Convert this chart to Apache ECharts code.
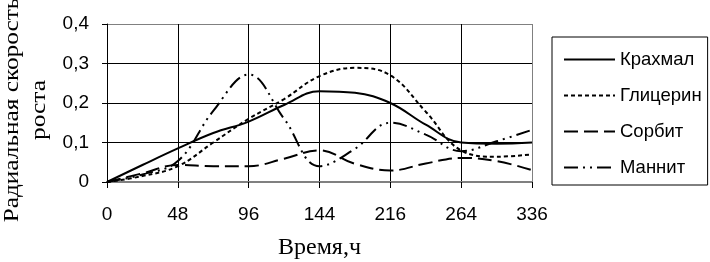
<!DOCTYPE html>
<html>
<head>
<meta charset="utf-8">
<script src="https://cdn.jsdelivr.net/npm/echarts@6/dist/echarts.min.js"></script>
<style>
html,body{margin:0;padding:0;background:#fff;}
#chart{width:710px;height:262px;}
</style>
</head>
<body>
<div id="chart"></div>
<script>
// Time in hours; every other category carries a tick label
var categories = ['0', '24', '48', '72', '96', '120', '144', '180', '216', '240', '264', '300', '336'];
var krahmal   = [0, 0.043, 0.085, 0.124, 0.153, 0.195, 0.23, 0.226, 0.2, 0.145, 0.1, 0.097, 0.1];
var glicerin  = [0, 0.015, 0.04, 0.1, 0.16, 0.21, 0.268, 0.289, 0.27, 0.178, 0.08, 0.064, 0.07];
var sorbit    = [0, 0.022, 0.043, 0.04, 0.04, 0.059, 0.08, 0.046, 0.029, 0.047, 0.061, 0.053, 0.03];
var mannit    = [0, 0.019, 0.053, 0.18, 0.272, 0.16, 0.04, 0.084, 0.15, 0.12, 0.078, 0.103, 0.132];
var seriesNames = ['Крахмал', 'Глицерин', 'Сорбит', 'Маннит'];
var yTitle = 'Радиальная скорость\nроста';
var xTitle = 'Время,ч';

var chart = echarts.init(document.getElementById('chart'), null, {renderer: 'canvas'});
var SANS = '"Liberation Sans", Arial, sans-serif';
var SERIF = '"Liberation Serif", "Times New Roman", serif';
var SM = 0.4;

function line(name, data, type) {
  return {
    name: name, type: 'line', data: data, smooth: SM,
    symbol: 'none', showSymbol: false,
    lineStyle: {color: '#000', width: 2, type: type},
    itemStyle: {color: '#000'}
  };
}

chart.setOption({
  animation: false,
  backgroundColor: '#fff',
  grid: {left: 107, right: 178, top: 24, bottom: 80, show: false,
    containLabel: false, outerBoundsMode: 'none'},
  xAxis: {
    type: 'category', data: categories, boundaryGap: false,
    name: xTitle, nameLocation: 'middle', nameGap: 54,
    nameTextStyle: {fontFamily: SERIF, fontSize: 24, color: '#000'},
    axisLine: {show: true, lineStyle: {color: '#808080', width: 2}},
    axisTick: {show: true, inside: false, length: 6, interval: 1, lineStyle: {color: '#000'}},
    axisLabel: {margin: 23, interval: 1, fontFamily: SANS, fontSize: 19, color: '#000'},
    splitLine: {show: true, interval: 1, lineStyle: {color: ['#000','#000','#000','#000','#000','#000','#808080'], width: 1}}
  },
  yAxis: {
    type: 'value', min: 0, max: 0.4, interval: 0.1,
    axisLine: {show: true, lineStyle: {color: '#000', width: 1}},
    axisTick: {show: true, inside: false, length: 5, lineStyle: {color: '#000'}},
    axisLabel: {margin: 18, fontFamily: SANS, fontSize: 19, color: '#000',
      formatter: function (v) { return String(Math.round(v * 10) / 10).replace('.', ','); }},
    splitLine: {show: true, lineStyle: {color: ['#808080','#000','#000','#000','#808080'], width: 1}}
  },
  legend: {
    orient: 'vertical', left: 552, top: 37,
    padding: [13, 6, 8, 11],
    borderColor: '#000', borderWidth: 1,
    itemWidth: 51, itemHeight: 20, itemGap: 17,
    itemStyle: {color: 'rgba(0,0,0,0)', borderWidth: 0, opacity: 0},
    textStyle: {fontFamily: SANS, fontSize: 18.5, color: '#000'},
    data: seriesNames
  },
  graphic: [{
    type: 'text', x: 26, y: 110, rotation: Math.PI / 2, scaleX: 1.15,
    style: {text: yTitle, fontFamily: SERIF, fontSize: 22, lineHeight: 27,
      fill: '#000', align: 'center', verticalAlign: 'middle'}
  }],
  series: [
    line(seriesNames[0], krahmal, 'solid'),
    line(seriesNames[1], glicerin, [4, 3]),
    line(seriesNames[2], sorbit, [14, 6]),
    line(seriesNames[3], mannit, [14, 5, 2, 5, 2, 5])
  ]
});
</script>
</body>
</html>
